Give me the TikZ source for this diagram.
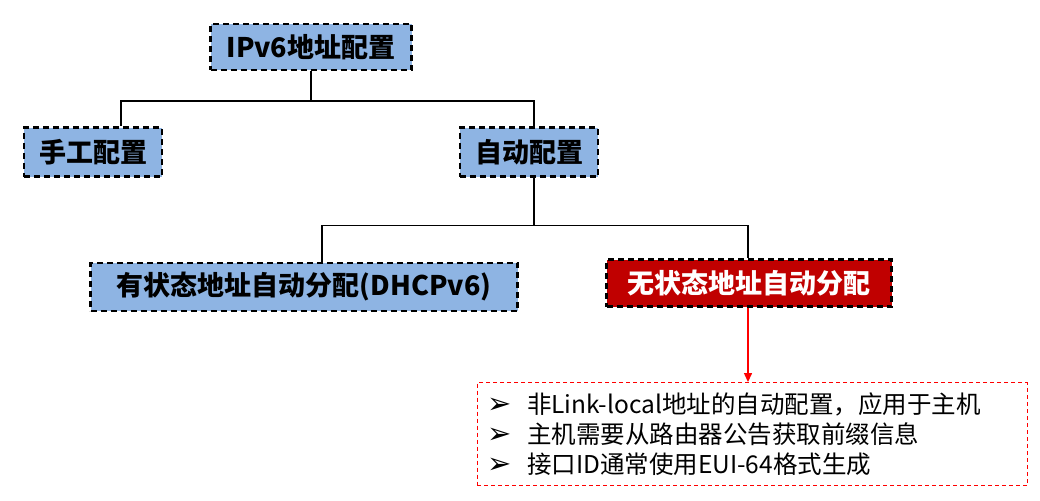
\documentclass[tikz,border=0pt]{standalone}
\usepackage{fontspec}
\setmainfont{Noto Sans CJK SC}
\newfontfamily\heavyfont{Noto Sans CJK SC Black}
\newfontfamily\symfont{DejaVu Sans}
\usetikzlibrary{arrows.meta,positioning}
\definecolor{boxblue}{HTML}{8EB4E3}
\definecolor{darkred}{HTML}{C00000}
\newcommand{\bul}{\makebox[40pt][l]{\raisebox{0pt}{\symfont\fontsize{29}{29}\selectfont ➢}}}

\begin{document}
\begin{tikzpicture}[x=1pt, y=-1pt,
  box/.style={draw, dashed, dash pattern=on 6pt off 4pt, line width=2.2pt,
    fill=boxblue, inner sep=0pt, font=\fontsize{27}{30}\selectfont\heavyfont},
  hot/.style={fill=darkred, text=white},
  link/.style={line width=1.5pt},
  arrow/.style={-{Triangle[length=9pt, width=8pt]}, red, line width=1.3pt},
  note/.style={draw=red, dashed, dash pattern=on 4pt off 3pt, line width=0.9pt,
    align=left, inner sep=0pt, font=\fontsize{24.5}{30}\selectfont}]
\useasboundingbox (0,0) rectangle (1040,500);
\node[box, minimum width=201, minimum height=46] (root) at (311,47) {IPv6地址配置};
\node[box, minimum width=138, minimum height=49] (manual) at (93,152) {手工配置};
\node[box, minimum width=138, minimum height=49] (auto) at (529,152) {自动配置};
\node[box, minimum width=427, minimum height=48] (stateful) at (304,287) {有状态地址自动分配(DHCPv6)};
\node[box, hot, minimum width=285, minimum height=47] (stateless) at (749,283) {无状态地址自动分配};
\node[note, minimum width=550, minimum height=103, text width=530] (info) at (752,434)
  {\bul 非Link-local地址的自动配置，应用于主机\\
   \bul 主机需要从路由器公告获取前缀信息\\
   \bul 接口ID通常使用EUI-64格式生成};
% tree links
\draw[link] (root.south) -- ++(0,30) coordinate (j1);
\draw[link] (j1) -| ([xshift=28]manual.north);
\draw[link] (j1) -| ([xshift=5]auto.north);
\draw[link] ([xshift=5]auto.south) -- ++(0,48) coordinate (j2);
\draw[link] (j2) -| ([xshift=18]stateful.north);
\draw[link] (j2) -| ([xshift=-1]stateless.north);
\draw[arrow] ([xshift=-1]stateless.south) -- ([xshift=-4]info.north);
\end{tikzpicture}
\end{document}
